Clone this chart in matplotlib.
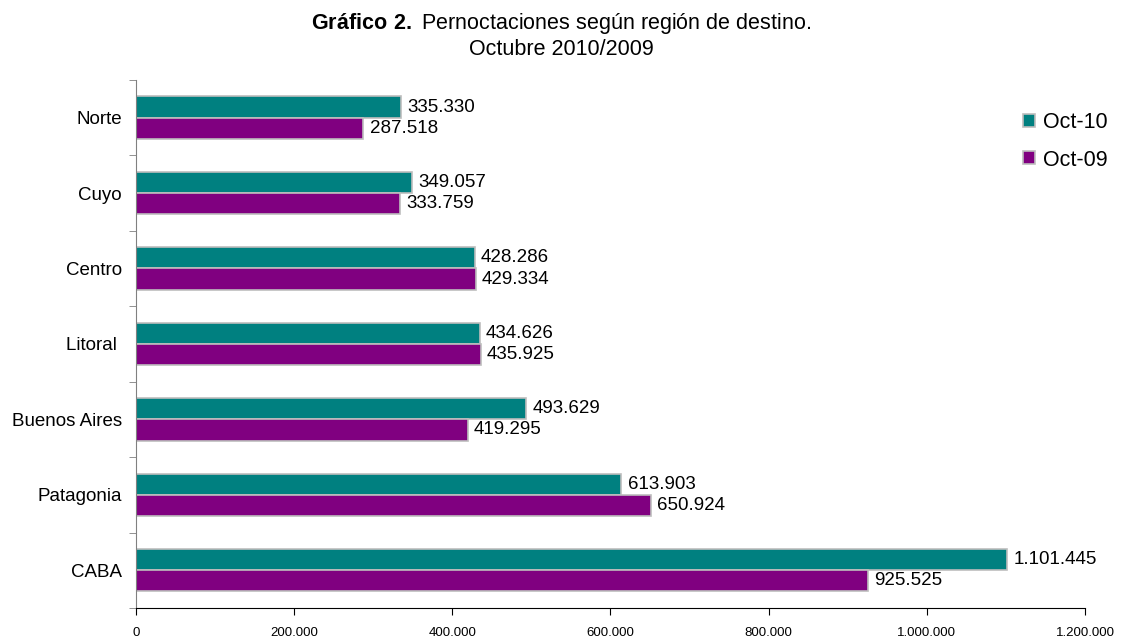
import numpy as np
import matplotlib.pyplot as plt
from matplotlib.ticker import FuncFormatter

plt.rcParams['font.family'] = ['Liberation Sans', 'DejaVu Sans']
plt.rcParams['mathtext.fontset'] = 'custom'
plt.rcParams['mathtext.rm'] = 'Liberation Sans'
plt.rcParams['mathtext.bf'] = 'Liberation Sans:bold'

regions = ['Norte', 'Cuyo', 'Centro', 'Litoral ', 'Buenos Aires', 'Patagonia', 'CABA']
oct10 = [335330, 349057, 428286, 434626, 493629, 613903, 1101445]
oct09 = [287518, 333759, 429334, 435925, 419295, 650924, 925525]


def fmt_num(v):
    return f'{v:,.0f}'.replace(',', '.')


fig = plt.figure(figsize=(11.22, 6.39), dpi=100)
ax = fig.add_axes([0.1212, 0.0485, 0.8458, 0.8265])

y = np.arange(len(regions))[::-1]
h = 0.28
b1 = ax.barh(y + h / 2, oct10, height=h, color='#008080', edgecolor='#bdbdbd',
             linewidth=1.2, label='Oct-10')
b2 = ax.barh(y - h / 2, oct09, height=h, color='#800080', edgecolor='#bdbdbd',
             linewidth=1.2, label='Oct-09')

for bars, vals in ((b1, oct10), (b2, oct09)):
    for bar, v in zip(bars, vals):
        ax.text(v + 8000, bar.get_y() + bar.get_height() / 2, fmt_num(v),
                va='center', ha='left', fontsize=13.5)

ax.set_xlim(0, 1200000)
ax.set_ylim(-0.5, len(regions) - 0.5)
ax.set_xticks(np.arange(0, 1200001, 200000))
ax.xaxis.set_major_formatter(FuncFormatter(lambda v, p: fmt_num(v)))
ax.tick_params(axis='x', labelsize=9.5, length=5, direction='out', pad=9)

ax.set_yticks(y)
ax.set_yticklabels(regions, fontsize=13.5)
ax.set_yticks(np.arange(-0.5, len(regions), 1), minor=True)
ax.tick_params(axis='y', which='major', length=0, pad=10)
ax.tick_params(axis='y', which='minor', length=5, color='#808080')

for s in ('top', 'right'):
    ax.spines[s].set_visible(False)
ax.spines['left'].set_color('#808080')

leg = ax.legend(loc='upper left', bbox_to_anchor=(0.914, 0.975), frameon=False,
                fontsize=15.5, handlelength=0.55, handleheight=0.55,
                handletextpad=0.4, labelspacing=0.75)

fig.text(0.5, 0.963, r'$\bf{Gráfico\ 2.}$ Pernoctaciones según región de destino.',
         ha='center', va='center', fontsize=15.5)
fig.text(0.5, 0.922, 'Octubre 2010/2009', ha='center', va='center', fontsize=15.5)

fig.savefig('out.png', dpi=100)
